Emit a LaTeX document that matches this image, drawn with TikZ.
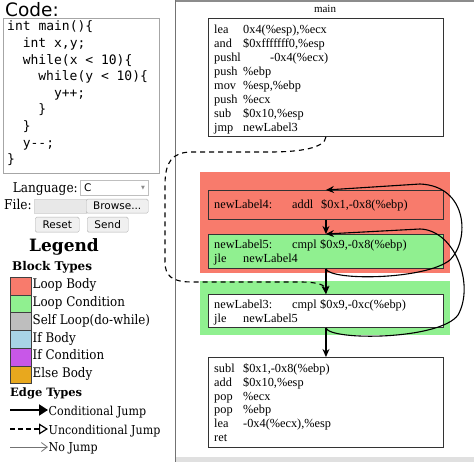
\documentclass[tikz,border=0pt]{standalone}
\usepackage{fontspec}
\setmainfont{DejaVu Serif}
\newfontfamily\condf[FakeStretch=0.9]{DejaVu Serif}
\newfontfamily\asmf{Liberation Serif}
\newfontfamily\monof{DejaVu Sans Mono}
\newfontfamily\uif{DejaVu Sans}
\usetikzlibrary{arrows.meta}
\definecolor{lbody}{HTML}{F87B6C}
\definecolor{lcond}{HTML}{90F090}
\definecolor{lself}{HTML}{BEBEBE}
\definecolor{ifbody}{HTML}{A8D4E6}
\definecolor{ifcond}{HTML}{C857E8}
\definecolor{elsebody}{HTML}{E8A81E}
\newcommand\mn[1]{\makebox[29pt][l]{#1}}
\begin{document}
\begin{tikzpicture}[x=1pt,y=-1pt,
  asm/.style={anchor=base west, inner sep=0pt, font=\asmf\fontsize{12.3}{14}\selectfont},
  blk/.style={draw=black!80, line width=0.9pt, anchor=north west, inner sep=0pt, minimum width=235pt},
  bg/.style={anchor=north west, inner sep=0pt, minimum width=250pt},
  edge/.style={line width=1.1pt, -{Stealth[length=8pt,width=7pt]}},
  code/.style={anchor=base west, inner sep=0pt, font=\monof\fontsize{13}{15}\selectfont},
  lbl/.style={anchor=base west, inner sep=0pt, font=\condf\fontsize{13.2}{15}\selectfont},
  elbl/.style={anchor=base west, inner sep=0pt, font=\condf\fontsize{12.3}{14}\selectfont},
  swatch/.style={draw=black!75, line width=0.6pt, anchor=north west, inner sep=0pt, minimum width=21pt, minimum height=17.7pt},
  btn/.style={draw=black!30, fill=black!6, rounded corners=1.5pt, inner sep=0pt, font=\uif\fontsize{10.5}{12}\selectfont}]
\useasboundingbox (0,0) rectangle (474,462);
\fill[white] (0,0) rectangle (474,462);
% ---------- right panel frame ----------
\fill[black!45] (175,0) rectangle (474,2.5);
\fill[black!12] (175,457) rectangle (474,462);
\draw[black!55, line width=1pt] (175,0) -- (175,462);
\node[inner sep=0pt, font=\asmf\fontsize{11}{12}\selectfont] (title) at (325,9) {main};
% backgrounds
\node[bg, fill=lbody, minimum height=101pt] (bgred) at (200,172) {};
\node[bg, fill=lcond, minimum height=54pt] (bggreen) at (200,281) {};
% blocks
\node[blk, fill=white, minimum height=118pt] (main) at (208,18) {};
\node[blk, fill=lbody, minimum height=29pt] (n4) at (208,190) {};
\node[blk, fill=lcond, minimum height=34pt] (n5) at (208,234) {};
\node[blk, fill=white, minimum height=33pt] (n3) at (208,294) {};
\node[blk, fill=white, minimum height=90pt] (last) at (208,357) {};
% main text
\node[asm] (m1) at (214,34) {\mn{lea}0x4(\%esp),\%ecx};
\node[asm] (m2) at (214,48) {\mn{and}\$0xfffffff0,\%esp};
\node[asm] (m3) at (214,62) {\makebox[56pt][l]{pushl}-0x4(\%ecx)};
\node[asm] (m4) at (214,76) {\mn{push}\%ebp};
\node[asm] (m5) at (214,90) {\mn{mov}\%esp,\%ebp};
\node[asm] (m6) at (214,104) {\mn{push}\%ecx};
\node[asm] (m7) at (214,118) {\mn{sub}\$0x10,\%esp};
\node[asm] (m8) at (214,132) {\mn{jmp}newLabel3};
% loop blocks
\node[asm] (t4) at (214,209) {\makebox[78pt][l]{newLabel4:}\makebox[29pt][l]{addl}\$0x1,-0x8(\%ebp)};
\node[asm] (t5a) at (214,249) {\makebox[78pt][l]{newLabel5:}\makebox[28pt][l]{cmpl}\$0x9,-0x8(\%ebp)};
\node[asm] (t5b) at (214,263) {\mn{jle}newLabel4};
\node[asm] (t3a) at (214,309) {\makebox[78pt][l]{newLabel3:}\makebox[28pt][l]{cmpl}\$0x9,-0xc(\%ebp)};
\node[asm] (t3b) at (214,323) {\mn{jle}newLabel5};
% last block
\node[asm] (l1) at (214,373) {\mn{subl}\$0x1,-0x8(\%ebp)};
\node[asm] (l2) at (214,386.6) {\mn{add}\$0x10,\%esp};
\node[asm] (l3) at (214,400.2) {\mn{pop}\%ecx};
\node[asm] (l4) at (214,413.8) {\mn{pop}\%ebp};
\node[asm] (l5) at (214,427.4) {\mn{lea}-0x4(\%ecx),\%esp};
\node[asm] (l6) at (214,441) {ret};
% edges
\draw[edge] (n4.south) -- (n5.north);
\draw[edge] (n5.south) -- (n3.north);
\draw[edge] (n3.south) -- (last.north);
\draw[edge, dashed, dash pattern=on 5pt off 4pt] (main.south) .. controls (325,148) and (300,152) .. (270,152)
  -- (192,152) .. controls (172,152) and (165,162) .. (165,185)
  -- (165,262) .. controls (165,276) and (172,282) .. (192,282)
  -- (300,282) .. controls (318,282) and (325,285) .. (n3.north);
\draw[edge] (n5.south) .. controls (330,281) and (425,280) .. (450,260)
  .. controls (470,240) and (468,186) .. (420,184) -- (n4.north);
\draw[edge] (n3.south) .. controls (330,341) and (440,340) .. (458,315)
  .. controls (475,285) and (455,230) .. (420,229) -- (n5.north);
% ---------- left panel ----------
\node[anchor=base west, inner sep=0pt, font=\uif\fontsize{18.5}{20}\selectfont] (codet) at (5,17) {Code:};
\node[draw=black!35, line width=0.8pt, anchor=north west, inner sep=0pt, minimum width=156pt, minimum height=155pt] (codebox) at (3,18) {};
\node[code] (c1) at (7,31) {int main()\{};
\node[code] (c2) at (22.6,47.6) {int x,y;};
\node[code] (c3) at (22.6,64.2) {while(x < 10)\{};
\node[code] (c4) at (38.2,80.8) {while(y < 10)\{};
\node[code] (c5) at (53.8,97.4) {y++;};
\node[code] (c6) at (38.2,114) {\}};
\node[code] (c7) at (22.6,130.6) {\}};
\node[code] (c8) at (22.6,147.2) {y-{}-;};
\node[code] (c9) at (7,163.8) {\}};
\node[anchor=base east, inner sep=0pt, font=\condf\fontsize{13.5}{15}\selectfont] (lang) at (78,192.5) {Language:};
\node[draw=black!25, anchor=north west, inner sep=0pt, minimum width=68pt, minimum height=15pt] (sel) at (80,180) {};
\node[anchor=base west, inner sep=0pt, font=\uif\fontsize{10.5}{12}\selectfont] (selc) at (84,191.5) {C};
\node[inner sep=0pt, font=\uif\fontsize{5}{6}\selectfont, text=black!45] (seld) at (143,188) {▼};
\node[anchor=base west, inner sep=0pt, font=\condf\fontsize{13.5}{15}\selectfont] (file) at (4,209.5) {File:};
\node[fill=black!9, draw=black!15, anchor=north west, inner sep=0pt, minimum width=52pt, minimum height=14pt] (fin) at (34,199) {};
\node[btn, anchor=north west, minimum width=62pt, minimum height=14pt] (browse) at (86,199) {Browse...};
\node[btn, anchor=north west, minimum width=44pt, minimum height=15pt] (reset) at (35,217) {Reset};
\node[btn, anchor=north west, minimum width=41pt, minimum height=15pt] (send) at (87,217) {Send};
\node[inner sep=0pt, font=\bfseries\fontsize{17}{20}\selectfont] (legend) at (64,247) {Legend};
\node[anchor=base west, inner sep=0pt, font=\bfseries\fontsize{12}{14}\selectfont] (bt) at (12,270.5) {Block Types};
\node[swatch, fill=lbody] (s1) at (10,277) {};
\node[swatch, fill=lcond] (s2) at (10,294.7) {};
\node[swatch, fill=lself] (s3) at (10,312.4) {};
\node[swatch, fill=ifbody] (s4) at (10,330.1) {};
\node[swatch, fill=ifcond] (s5) at (10,347.8) {};
\node[swatch, fill=elsebody] (s6) at (10,365.5) {};
\node[lbl] (k1) at (32.5,289) {Loop Body};
\node[lbl] (k2) at (32.5,306.7) {Loop Condition};
\node[lbl] (k3) at (32.5,324.4) {Self Loop(do-while)};
\node[lbl] (k4) at (32.5,342.1) {If Body};
\node[lbl] (k5) at (32.5,359.8) {If Condition};
\node[lbl] (k6) at (32.5,377.5) {Else Body};
\node[anchor=base west, inner sep=0pt, font=\bfseries\fontsize{11.5}{14}\selectfont] (et) at (10,396) {Edge Types};
\coordinate (a1) at (10,410);
\coordinate (b1) at (48,410);
\draw[line width=2pt, -{Triangle[length=9pt,width=11pt]}] (a1) -- (b1);
\node[elbl] (e1) at (48.5,415) {Conditional Jump};
\coordinate (a2) at (10,429);
\coordinate (b2) at (48,429);
\draw[line width=1.4pt, dash pattern=on 5pt off 3pt, -{Triangle[open,length=9pt,width=11pt,line width=1.2pt]}] (a2) -- (b2);
\node[elbl] (e2) at (48.5,434) {Unconditional Jump};
\coordinate (a3) at (10,447);
\coordinate (b3) at (48,447);
\draw[black!55, line width=0.8pt, -{Straight Barb[length=6pt,width=9pt]}] (a3) -- (b3);
\node[elbl] (e3) at (48.5,451) {No Jump};
\end{tikzpicture}
\end{document}
